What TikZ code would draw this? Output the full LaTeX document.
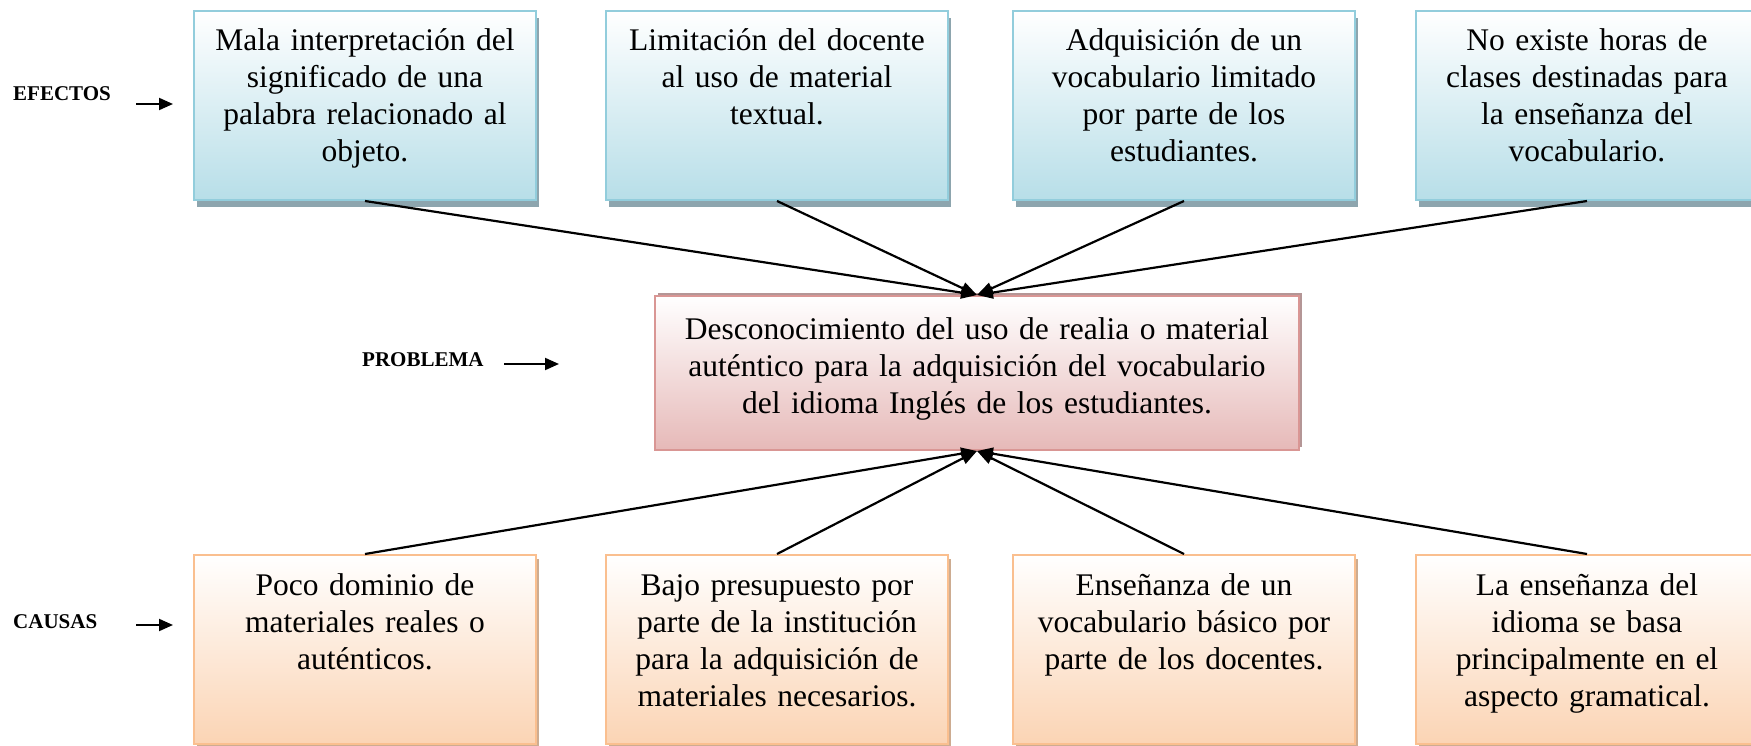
\documentclass[tikz,border=0pt]{standalone}
\usepackage{fontspec}
\setmainfont{Liberation Serif}
\usetikzlibrary{arrows.meta,shadows}
\definecolor{effBorder}{RGB}{146,205,220}
\definecolor{effFill}{RGB}{183,222,232}
\definecolor{effShadow}{RGB}{141,165,174}
\definecolor{probBorder}{RGB}{217,150,148}
\definecolor{probFill}{RGB}{230,185,184}
\definecolor{probShadow}{RGB}{180,150,150}
\definecolor{cauBorder}{RGB}{250,191,143}
\definecolor{cauFill}{RGB}{251,212,180}
\definecolor{cauShadow}{RGB}{205,172,145}
\begin{document}
\begin{tikzpicture}[x=1pt,y=-1pt,
  box/.style={draw, line width=2pt, inner xsep=6pt, inner ysep=0pt,
    text width=330pt, align=center, text height=40pt, text depth=149pt,
    font=\fontsize{31.5}{37}\selectfont, anchor=north west},
  effect/.style={box, draw=effBorder, top color=white, bottom color=effFill,
    drop shadow={shadow xshift=3pt, shadow yshift=-7pt, fill=effShadow, opacity=1}},
  cause/.style={box, draw=cauBorder, top color=white, bottom color=cauFill,
    drop shadow={shadow xshift=3pt, shadow yshift=-4pt, fill=cauShadow, opacity=1}},
  problem/.style={draw=probBorder, line width=2pt, inner xsep=6pt, inner ysep=0pt,
    text width=632pt, align=center, text height=43pt, text depth=111pt,
    font=\fontsize{31.5}{37}\selectfont, anchor=north west,
    top color=white, bottom color=probFill,
    drop shadow={shadow xshift=3pt, shadow yshift=3pt, fill=probShadow, opacity=1}},
  lbl/.style={inner sep=0pt, anchor=west, font=\fontsize{21}{25}\selectfont\bfseries},
  conn/.style={line width=2.2pt, -{Triangle[length=16pt,width=12pt]}},
  lblarrow/.style={line width=2pt, -{Triangle[length=14pt,width=12pt]}}
]
\useasboundingbox (0,0) rectangle (1751,746);

% effects
\node[effect] (e1) at (193,10) {Mala interpretación del\\ significado de una\\ palabra relacionado al\\ objeto.};
\node[effect] (e2) at (605,10) {Limitación del docente\\ al uso de material\\ textual.};
\node[effect] (e3) at (1012,10) {Adquisición de un\\ vocabulario limitado\\ por parte de los\\ estudiantes.};
\node[effect] (e4) at (1415,10) {No existe horas de\\ clases destinadas para\\ la enseñanza del\\ vocabulario.};

% problem
\node[problem] (p) at (654,295) {Desconocimiento del uso de realia o material\\ auténtico para la adquisición del vocabulario\\ del idioma Inglés de los estudiantes.};

% causes
\node[cause] (c1) at (193,554) {Poco dominio de\\ materiales reales o\\ auténticos.};
\node[cause] (c2) at (605,554) {Bajo presupuesto por\\ parte de la institución\\ para la adquisición de\\ materiales necesarios.};
\node[cause] (c3) at (1012,554) {Enseñanza de un\\ vocabulario básico por\\ parte de los docentes.};
\node[cause] (c4) at (1415,554) {La enseñanza del\\ idioma se basa\\ principalmente en el\\ aspecto gramatical.};

% connectors
\foreach \n in {e1,e2,e3,e4} \draw[conn] (\n.south) -- (p.north);
\foreach \n in {c1,c2,c3,c4} \draw[conn] (\n.north) -- (p.south);

% side labels
\node[lbl] (lef) at (13,94) {EFECTOS};
\node[lbl] (lpr) at (362,360) {PROBLEMA};
\node[lbl] (lca) at (13,622) {CAUSAS};
\coordinate (efA) at (136,104);
\coordinate (efB) at (173,104);
\coordinate (prA) at (504,364);
\coordinate (prB) at (559,364);
\coordinate (caA) at (136,625);
\coordinate (caB) at (173,625);
\draw[lblarrow] (efA) -- (efB);
\draw[lblarrow] (prA) -- (prB);
\draw[lblarrow] (caA) -- (caB);
\end{tikzpicture}
\end{document}
